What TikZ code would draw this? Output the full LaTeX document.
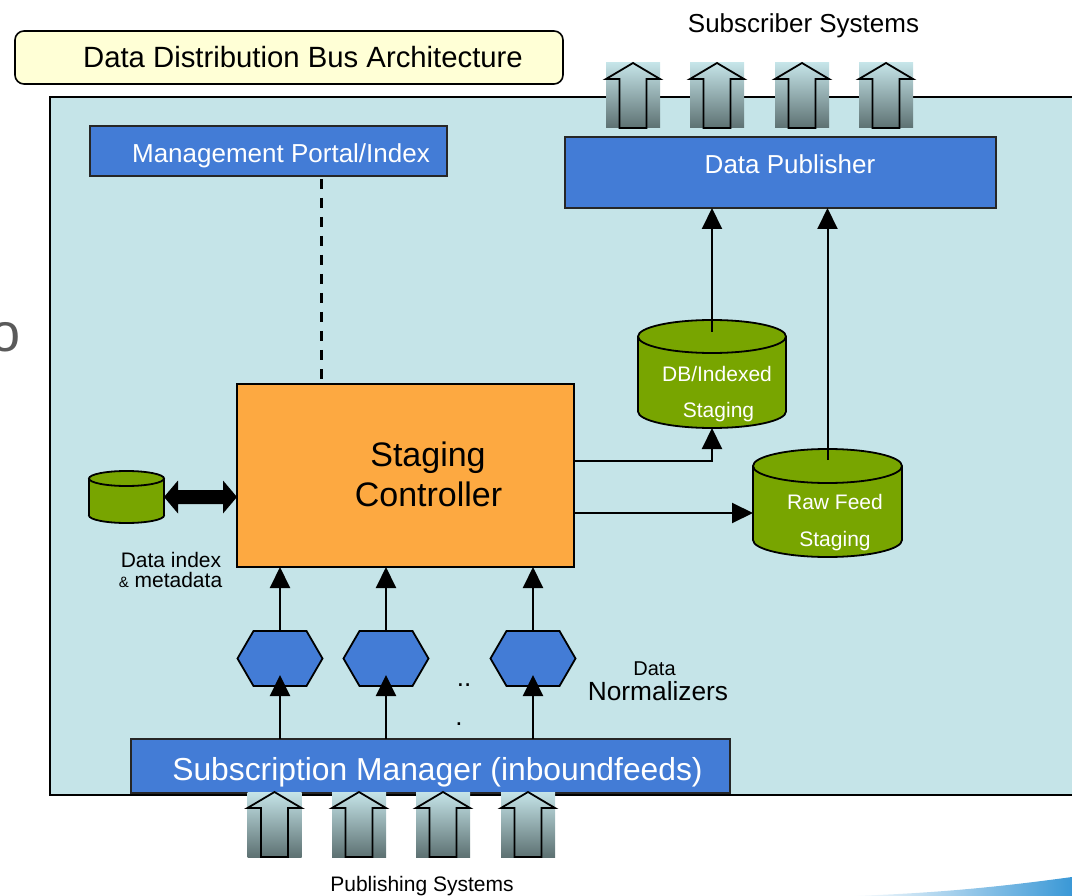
\documentclass[tikz,border=0pt]{standalone}
\usepackage{fontspec}
\setmainfont{Liberation Sans}
\usetikzlibrary{arrows.meta,calc}

\definecolor{panelcyan}{HTML}{C5E4E8}
\definecolor{boxblue}{HTML}{437CD6}
\definecolor{ctrlorange}{HTML}{FDA941}
\definecolor{tankgreen}{HTML}{78A500}
\definecolor{titlecream}{HTML}{FFFFD6}
\definecolor{arrowdark}{HTML}{5D7172}
\definecolor{swooshblue}{HTML}{3A98D6}
\definecolor{slidegray}{HTML}{5A5A5A}

\newcommand{\fsz}[1]{\fontsize{#1}{#1}\selectfont}

% cylinder: centre x, top y, bottom y, x radius, y radius
\newcommand{\tankfig}[5]{%
  \filldraw[tankline] (#1,#3-#5) ellipse [x radius=#4pt, y radius=#5pt];
  \fill[tankgreen] (#1-#4,#2+#5) rectangle (#1+#4,#3-#5);
  \draw[tankline] (#1-#4,#2+#5) -- (#1-#4,#3-#5) (#1+#4,#2+#5) -- (#1+#4,#3-#5);
  \filldraw[tankline] (#1,#2+#5) ellipse [x radius=#4pt, y radius=#5pt];
}

% hexagon drawn inside a named slot node
\newcommand{\hexfig}[1]{%
  \draw[hexline] (#1.west) -- ([xshift=16pt]#1.north west) -- ([xshift=-16pt]#1.north east)
    -- (#1.east) -- ([xshift=-16pt]#1.south east) -- ([xshift=16pt]#1.south west) -- cycle;
}

% shaded block arrow pointing up: centre x, top y
\newcommand{\upflow}[2]{%
  \shade[top color=panelcyan, bottom color=arrowdark] (#1-27,#2) rectangle (#1+27,#2+65);
  \draw[flowline] (#1,#2) -- (#1+27,#2+16) -- (#1+13.5,#2+16) -- (#1+13.5,#2+65)
    -- (#1-13.5,#2+65) -- (#1-13.5,#2+16) -- (#1-27,#2+16) -- cycle;
}

\begin{document}
\begin{tikzpicture}[x=1pt,y=-1pt,
  every node/.style={inner sep=0pt, outer sep=0pt},
  panel/.style={fill=panelcyan, draw=black, line width=2pt},
  titlebox/.style={draw=black, line width=1.6pt, fill=titlecream, rounded corners=9pt},
  bluebox/.style={draw=black!85, fill=boxblue, line width=1.8pt},
  ctrlbox/.style={draw=black, fill=ctrlorange, line width=1.8pt},
  slot/.style={rectangle},
  caption/.style={anchor=base, text=black},
  wcaption/.style={anchor=base, text=white},
  link/.style={line width=2pt, -{Triangle[length=21pt,width=20pt]}},
  hexline/.style={draw=black, fill=boxblue, line width=1.8pt, line join=miter},
  tankline/.style={draw=black, fill=tankgreen, line width=1.8pt},
  flowline/.style={draw=black, line width=1.8pt, line join=miter},
]
\clip (0,0) rectangle (1072,896);
\useasboundingbox (0,0) rectangle (1072,896);

% edge of a neighbouring slide element
\node[anchor=east, text=slidegray, font=\fsz{54}] (slideo) at (21,337) {o};

% background panel
\filldraw[panel] (50,97) rectangle (1100,795);

% corner swoosh
\shade[left color=white, right color=swooshblue]
  (850,896) .. controls (950,893) and (1020,884) .. (1072,877) -- (1072,896) -- cycle;

% title
\node[titlebox, minimum width=548pt, minimum height=53pt] (title) at (289,57.5) {};
\node[caption, font=\fsz{29.3}] (titletext) at (303,68) {Data Distribution Bus Architecture};

% main boxes
\node[bluebox, minimum width=357pt, minimum height=50pt] (mgmt) at (268.5,151) {};
\node[wcaption, font=\fsz{26}] (mgmttext) at (281,162.5) {Management Portal/Index};

\node[bluebox, minimum width=431pt, minimum height=71pt] (pub) at (780.5,172.5) {};
\node[wcaption, font=\fsz{26}] (pubtext) at (790,173.5) {Data Publisher};

\node[ctrlbox, minimum width=337pt, minimum height=183pt] (stg) at (405.5,475.5) {};
\node[caption, font=\fsz{34}] (stgtext1) at (428,466) {Staging};
\node[caption, font=\fsz{34}] (stgtext2) at (428.5,506.7) {Controller};

\node[bluebox, minimum width=599pt, minimum height=54pt] (sub) at (430.5,766) {};
\node[wcaption, font=\fsz{31.8}] (subtext) at (437.5,780) {Subscription Manager (inboundfeeds)};

% storage tanks
\node[slot, minimum width=148pt, minimum height=108pt] (db) at (712,374) {};
\tankfig{712}{320}{428}{74}{16.5}
\node[wcaption, font=\fsz{21}] (dbtext1) at (717,381.7) {DB/Indexed};
\node[wcaption, font=\fsz{21}] (dbtext2) at (718.5,417.7) {Staging};

\node[slot, minimum width=149pt, minimum height=108pt] (raw) at (827.5,503) {};
\tankfig{827.5}{449}{557}{74.5}{17}
\node[wcaption, font=\fsz{21}] (rawtext1) at (835,509.3) {Raw Feed};
\node[wcaption, font=\fsz{21}] (rawtext2) at (835,546.7) {Staging};

\node[slot, minimum width=75pt, minimum height=52pt] (idx) at (126.5,497) {};
\tankfig{126.5}{471}{523}{37.5}{7.5}
\node[caption, font=\fsz{21}] (idxtext1) at (171,567.3) {Data index};
\node[caption, font=\fsz{21}] (idxtext2) at (170.5,587.3) {{\fsz{15}\&} metadata};

% normalizers
\node[slot, minimum width=85pt, minimum height=55pt] (h1) at (280,658.5) {};
\node[slot, minimum width=85pt, minimum height=55pt] (h2) at (386,658.5) {};
\node[slot, minimum width=85pt, minimum height=55pt] (h3) at (533,658.5) {};
\hexfig{h1}
\hexfig{h2}
\hexfig{h3}
\node[caption, font=\fsz{26}] (dots1) at (464,686) {..};
\node[caption, font=\fsz{26}] (dots2) at (459,725) {.};
\node[caption, font=\fsz{20}] (normtext1) at (654.5,675) {Data};
\node[caption, font=\fsz{26.3}] (normtext2) at (658,700) {Normalizers};

% connectors
\foreach \h in {h1,h2,h3} {
  \draw[link] (\h |- sub.north) -- ([yshift=11pt]\h.south);
  \draw[link] (\h.north) -- (\h.north |- stg.south);
}
\draw[link] ([yshift=15pt]stg.east) -| (db.south);
\coordinate (toraw) at ([yshift=-37.5pt]stg.east);
\draw[link] (toraw) -- (toraw -| raw.west);
\draw[link] ([yshift=-12pt]db.north) -- (db.north |- pub.south);
\draw[link] ([yshift=-11pt]raw.north) -- (raw.north |- pub.south);

\coordinate (mgmtdash) at ([xshift=52.5pt]mgmt.south);
\draw[line width=3pt, dash pattern=on 10pt off 9pt, shorten <=3pt, shorten >=4pt]
  (mgmtdash) -- (mgmtdash |- stg.north);

% two-way link between index store and controller
\coordinate (idxend) at (idx.east -| stg.west);
\fill[black] (idx.east) -- ++(14,-16.5) -- ++(0,9.5) -- ([shift={(-14,-7)}]idxend)
  -- ++(0,-9.5) -- (idxend) -- ++(-14,16.5) -- ++(0,-9.5)
  -- ([shift={(14,7)}]idx.east) -- ++(0,9.5) -- cycle;

% subscriber feeds
\upflow{633}{63}
\upflow{717}{63}
\upflow{802}{63}
\upflow{886}{63}
\node[caption, font=\fsz{26}] (subsys) at (803.5,32.3) {Subscriber Systems};

% publishing feeds
\upflow{274.5}{792}
\upflow{359}{792}
\upflow{443}{792}
\upflow{528}{792}
\node[caption, font=\fsz{21}] (pubsys) at (422,891) {Publishing Systems};
\end{tikzpicture}
\end{document}
